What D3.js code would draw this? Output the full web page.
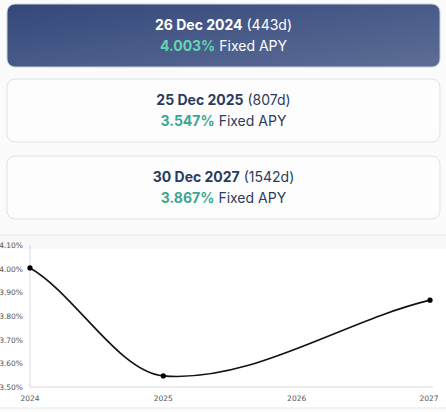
<!DOCTYPE html>
<html>
<head>
<meta charset="utf-8">
<script src="https://cdn.jsdelivr.net/npm/d3@7"></script>
<style>
  html, body { margin: 0; padding: 0; background: #fbfbfc; }
  svg { display: block; }
</style>
</head>
<body>
<div id="chart"></div>
<script>
var maturities = ["26 Dec 2024", "25 Dec 2025", "30 Dec 2027"];
var daysLeft = [443, 807, 1542];
var apys = [4.003, 3.547, 3.867];
var pointYears = [2024, 2025, 2027];
var yTicks = [3.5, 3.6, 3.7, 3.8, 3.9, 4.0, 4.1];
var xTicks = [2024, 2025, 2026, 2027];

var width = 446, height = 412;

// smooth curve like a spreadsheet "smoothed line": hermite segments,
// inner tangents from neighbours, softer tangents at the two ends
function smoothCurve(context) {
  var pts = [];
  return {
    areaStart: function() {}, areaEnd: function() {},
    lineStart: function() { pts = []; },
    point: function(x, y) { pts.push([+x, +y]); },
    lineEnd: function() {
      var n = pts.length;
      if (!n) return;
      var m = pts.map(function(p, i) {
        if (n < 2) return 0;
        if (i === 0) return 0.7 * (pts[1][1] - p[1]) / (pts[1][0] - p[0]);
        if (i === n - 1) return 0.85 * (p[1] - pts[i - 1][1]) / (p[0] - pts[i - 1][0]);
        return (pts[i + 1][1] - pts[i - 1][1]) / (pts[i + 1][0] - pts[i - 1][0]);
      });
      context.moveTo(pts[0][0], pts[0][1]);
      for (var i = 0; i < n - 1; i++) {
        var h = (pts[i + 1][0] - pts[i][0]) / 3;
        context.bezierCurveTo(
          pts[i][0] + h, pts[i][1] + m[i] * h,
          pts[i + 1][0] - h, pts[i + 1][1] - m[i + 1] * h,
          pts[i + 1][0], pts[i + 1][1]);
      }
    }
  };
}

var svg = d3.select('#chart').append('svg')
  .attr('width', width)
  .attr('height', height)
  .style('font-family', 'Inter, "Noto Sans", sans-serif');

var defs = svg.append('defs');
var grad = defs.append('linearGradient')
  .attr('id', 'activeGrad')
  .attr('x1', '0%').attr('y1', '0%')
  .attr('x2', '100%').attr('y2', '100%');
grad.append('stop').attr('offset', '0%').attr('stop-color', '#33487a');
grad.append('stop').attr('offset', '100%').attr('stop-color', '#5d6d96');

// cards
var cardTops = [4, 79, 156];
var cardH = 63;

var cards = svg.selectAll('g.card')
  .data(maturities)
  .enter()
  .append('g')
  .attr('class', 'card')
  .attr('transform', function(d, i) { return 'translate(7,' + cardTops[i] + ')'; });

cards.append('rect')
  .attr('width', 433)
  .attr('height', cardH)
  .attr('rx', 8)
  .attr('fill', function(d, i) { return i === 0 ? 'url(#activeGrad)' : '#fdfdfe'; })
  .attr('stroke', function(d, i) { return i === 0 ? '#c9d0de' : '#dbe1ec'; })
  .attr('stroke-width', 1);

var line1 = cards.append('text')
  .attr('x', 216.5)
  .attr('y', 26)
  .attr('text-anchor', 'middle')
  .style('font-size', '14px')
  .attr('fill', function(d, i) { return i === 0 ? '#ffffff' : '#2c3b5c'; });
line1.append('tspan').style('font-weight', 700).text(function(d) { return d; });
line1.append('tspan').style('font-weight', 400)
  .text(function(d, i) { return ' (' + daysLeft[i] + 'd)'; });

var line2 = cards.append('text')
  .attr('x', 216.5)
  .attr('y', 46.5)
  .attr('text-anchor', 'middle')
  .style('font-size', '14px')
  .attr('fill', function(d, i) { return i === 0 ? '#ffffff' : '#2c3b5c'; });
line2.append('tspan').style('font-weight', 700)
  .attr('fill', function(d, i) { return i === 0 ? '#63d6b3' : '#3aa88f'; })
  .text(function(d, i) { return apys[i].toFixed(3) + '%'; });
line2.append('tspan').style('font-weight', 400).text(' Fixed APY');

// chart area
svg.append('line')
  .attr('x1', 0).attr('x2', width)
  .attr('y1', 235).attr('y2', 235)
  .attr('stroke', '#e6e6e6');

svg.append('rect')
  .attr('x', 0).attr('y', 236)
  .attr('width', width).attr('height', 172)
  .attr('fill', '#ffffff');
svg.append('rect')
  .attr('x', 0).attr('y', 236)
  .attr('width', width).attr('height', 13)
  .attr('fill', '#f8f8f8');

var x = d3.scaleLinear().domain([2024, 2027]).range([30, 430]);
var y = d3.scaleLinear().domain([3.5, 4.1]).range([387, 245]);

var plot = svg.append('g');

plot.append('line')
  .attr('x1', x(2024)).attr('x2', x(2024))
  .attr('y1', y(4.1)).attr('y2', y(3.5))
  .attr('stroke', '#d9d9d9');
plot.append('line')
  .attr('x1', x(2024)).attr('x2', 433)
  .attr('y1', y(3.5)).attr('y2', y(3.5))
  .attr('stroke', '#d9d9d9');

plot.selectAll('text.ytick')
  .data(yTicks)
  .enter()
  .append('text')
  .attr('class', 'ytick')
  .attr('x', 23)
  .attr('y', function(d) { return y(d) + 3; })
  .attr('text-anchor', 'end')
  .style('font-size', '7.5px')
  .style('font-family', '"DejaVu Sans", sans-serif')
  .attr('fill', '#555')
  .text(function(d) { return d.toFixed(2) + '%'; });

plot.selectAll('text.xtick')
  .data(xTicks)
  .enter()
  .append('text')
  .attr('class', 'xtick')
  .attr('x', function(d) { return d === 2027 ? x(d) - 1 : x(d); })
  .attr('y', 401)
  .attr('text-anchor', 'middle')
  .style('font-size', '7.5px')
  .style('font-family', '"DejaVu Sans", sans-serif')
  .attr('fill', '#555')
  .text(function(d) { return d; });

var pts = pointYears.map(function(yr, i) { return [yr, apys[i]]; });

var lineGen = d3.line()
  .x(function(d) { return x(d[0]); })
  .y(function(d) { return y(d[1]); })
  .curve(smoothCurve);

plot.append('path')
  .datum(pts)
  .attr('d', lineGen)
  .attr('fill', 'none')
  .attr('stroke', '#111')
  .attr('stroke-width', 1.6);

plot.selectAll('circle')
  .data(pts)
  .enter()
  .append('circle')
  .attr('cx', function(d) { return x(d[0]); })
  .attr('cy', function(d) { return y(d[1]); })
  .attr('r', 2.6)
  .attr('fill', '#000');

svg.append('line')
  .attr('x1', 0).attr('x2', width)
  .attr('y1', 408).attr('y2', 408)
  .attr('stroke', '#e9e9e9');
</script>
</body>
</html>
